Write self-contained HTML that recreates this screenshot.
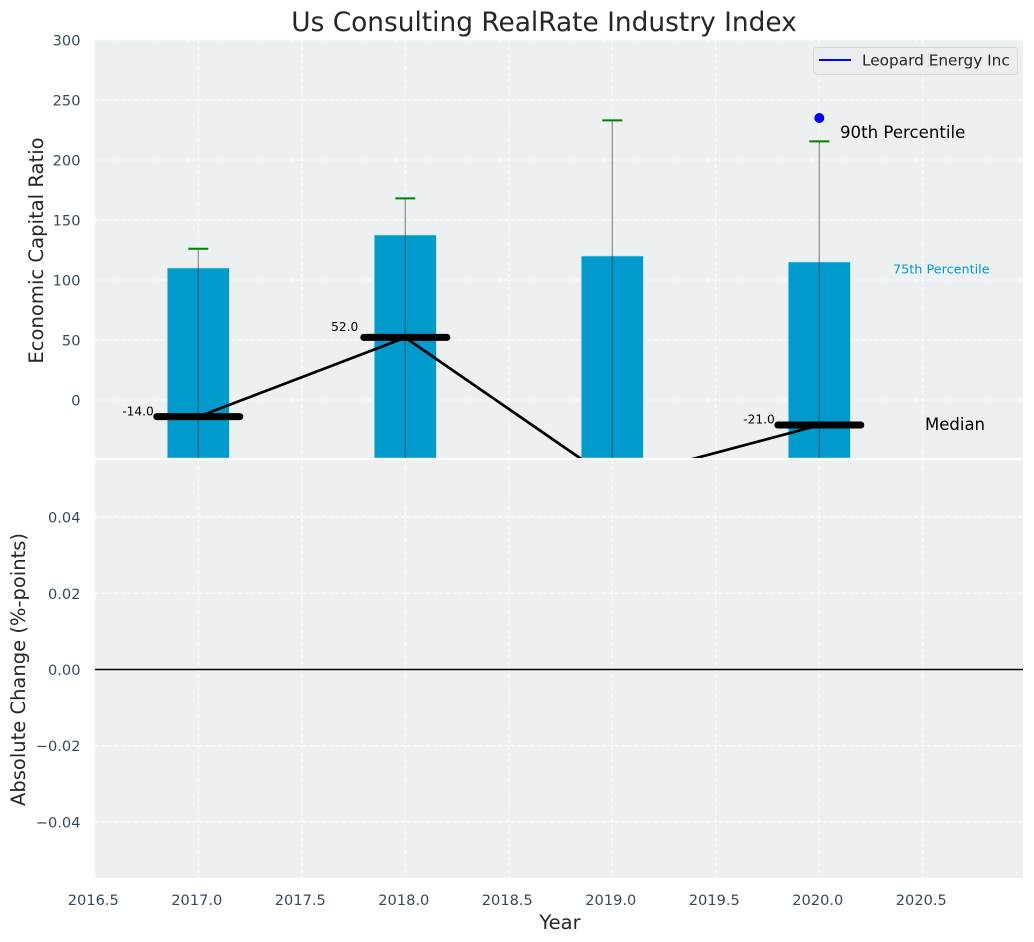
<!DOCTYPE html>
<html>
<head>
<meta charset="utf-8">
<style>
html,body{margin:0;padding:0;background:#fff;}
svg{display:block;font-family:"DejaVu Sans","Liberation Sans",sans-serif;}
</style>
</head>
<body>
<svg id="chart" xmlns="http://www.w3.org/2000/svg" width="1034" height="942" viewBox="0 0 1034 942">
<defs>
<clipPath id="clip-top"><rect x="95" y="40" width="928" height="418"/></clipPath>
<clipPath id="clip-bottom"><rect x="95" y="459" width="928" height="419"/></clipPath>
</defs>
<rect x="95" y="40" width="928" height="418" fill="#ecf0f1"/>
<rect x="95" y="460" width="928" height="418" fill="#ecf0f1"/>
<g id="grid"></g>
<g id="marks-top" clip-path="url(#clip-top)"></g>
<g id="marks-bottom" clip-path="url(#clip-bottom)"></g>
<g id="labels"></g>
<text x="544" y="31" text-anchor="middle" font-size="26.4" fill="#262626">Us Consulting RealRate Industry Index</text>
<text transform="translate(43,250.5) rotate(-90)" text-anchor="middle" font-size="19.6" fill="#262626">Economic Capital Ratio</text>
<text transform="translate(25,669.5) rotate(-90)" text-anchor="middle" font-size="19.5" fill="#262626">Absolute Change (%-points)</text>
<text x="560" y="929" text-anchor="middle" font-size="19.5" fill="#262626">Year</text>
<g>
<rect x="813.5" y="47.5" width="204" height="27" rx="3" fill="#ecedf1" stroke="#d6d8da"/>
<line x1="819" x2="851" y1="60" y2="60" stroke="#0000ff" stroke-width="2"/>
<text x="862" y="65.5" font-size="15.3" fill="#262626">Leopard Energy Inc</text>
</g>
<script>
const years = [2017, 2018, 2019, 2020];
const p75 = [110, 137.5, 120, 115];
const p90 = [126, 168, 233, 215.5];
const medians = [-14, 52, -67, -21];
const companyYears = [2020];
const companyValues = [235];
const xTicks = [2016.5, 2017, 2017.5, 2018, 2018.5, 2019, 2019.5, 2020, 2020.5];
const xTickLabels = ['2016.5', '2017.0', '2017.5', '2018.0', '2018.5', '2019.0', '2019.5', '2020.0', '2020.5'];
const yTicksTop = [0, 50, 100, 150, 200, 250, 300];
const yTicksBottom = [-0.04, -0.02, 0, 0.02, 0.04];
const yTickLabelsBottom = ['\u22120.04', '\u22120.02', '0.00', '0.02', '0.04'];
const medianLabelYears = [2017, 2018, 2020];
const medianLabels = ['-14.0', '52.0', '-21.0'];
const medianLabelValues = [-14, 52, -21];

const NS = 'http://www.w3.org/2000/svg';
const X = v => 198.3 + (v - 2017) * 207;
const YT = v => 400 - v * 1.2;
const YB = v => 669.5 - v * 3812;
const PANEL_LEFT = 95, PANEL_RIGHT = 1023;

function make(parent, tag, attrs, text) {
  const el = document.createElementNS(NS, tag);
  for (const k in attrs) el.setAttribute(k, attrs[k]);
  if (text !== undefined) el.textContent = text;
  parent.appendChild(el);
  return el;
}

const grid = document.getElementById('grid');
const top_ = document.getElementById('marks-top');
const bottom = document.getElementById('marks-bottom');
const labels = document.getElementById('labels');
const gridStyle = {stroke: '#ffffff', 'stroke-width': 1, 'stroke-dasharray': '4 2.5', 'stroke-opacity': 0.85};

xTicks.forEach((t, i) => {
  const a = make(grid, 'line', {...gridStyle, x1: X(t), x2: X(t), y1: 40, y2: 458});
  
  
  const b = make(grid, 'line', {...gridStyle, x1: X(t), x2: X(t), y1: 460, y2: 878});
  
  
  const l = make(labels, 'text', {x: X(t) - 1.5, y: 905, 'text-anchor': 'middle', 'font-size': 14.6, fill: '#34495e'}, xTickLabels[i]);
  
  
});

yTicksTop.forEach(t => {
  const g = make(grid, 'line', {...gridStyle, x1: PANEL_LEFT, x2: PANEL_RIGHT, y1: YT(t), y2: YT(t)});
  
  
  const l = make(labels, 'text', {x: 80.5, y: YT(t) + 5.5, 'text-anchor': 'end', 'font-size': 14.6, fill: '#34495e'}, String(t));
  
  
});

yTicksBottom.forEach((t, i) => {
  const g = make(grid, 'line', {...gridStyle, x1: PANEL_LEFT, x2: PANEL_RIGHT, y1: YB(t), y2: YB(t)});
  
  
  const l = make(labels, 'text', {x: 80.5, y: YB(t) + 5.5, 'text-anchor': 'end', 'font-size': 14.6, fill: '#34495e'}, yTickLabelsBottom[i]);
  
  
});

years.forEach((yr, i) => {
  const bar = make(top_, 'rect', {x: X(yr - 0.15), y: YT(p75[i]), width: X(yr + 0.15) - X(yr - 0.15), height: 458 - YT(p75[i]), fill: '#009acd', stroke: '#c5e3ee', 'stroke-width': 0.6});
  
  
});

years.forEach((yr, i) => {
  const w = make(top_, 'line', {x1: X(yr), x2: X(yr), y1: YT(p90[i]), y2: 458, stroke: '#333333', 'stroke-opacity': 0.55, 'stroke-width': 1.2});
  
  
  const c = make(top_, 'line', {x1: X(yr) - 10, x2: X(yr) + 10, y1: YT(p90[i]), y2: YT(p90[i]), stroke: '#008000', 'stroke-width': 2});
  
  
});

const medianPath = make(top_, 'polyline', {points: years.map((yr, i) => X(yr) + ',' + YT(medians[i])).join(' '), fill: 'none', stroke: '#000000', 'stroke-width': 2.7});



years.forEach((yr, i) => {
  const m = make(top_, 'line', {x1: X(yr) - 41.5, x2: X(yr) + 41.5, y1: YT(medians[i]) - 0.2, y2: YT(medians[i]) - 0.2, stroke: '#000000', 'stroke-width': 7, 'stroke-linecap': 'round'});
  
  
});

companyYears.forEach((yr, i) => {
  const d = make(top_, 'circle', {cx: X(yr), cy: YT(companyValues[i]), r: 5, fill: '#0000ff'});
  
  
});

medianLabelYears.forEach((yr, i) => {
  const v = medianLabelValues[i];
  const l = make(top_, 'text', {x: X(yr) - (v > 0 ? 47 : 44.5), y: YT(v) - (v > 0 ? 6.5 : 1.5), 'text-anchor': 'end', 'font-size': 12.2, fill: '#000000'}, medianLabels[i]);
  
  
});

const t90 = make(top_, 'text', {x: 840, y: 138, 'font-size': 16.6, fill: '#000000'}, '90th Percentile');


const t75 = make(top_, 'text', {x: 893, y: 273.5, 'font-size': 12.8, fill: '#009acd'}, '75th Percentile');


const tMed = make(top_, 'text', {x: 925, y: 430, 'font-size': 16.5, fill: '#000000'}, 'Median');



const zero = make(bottom, 'line', {x1: PANEL_LEFT, x2: PANEL_RIGHT, y1: YB(0), y2: YB(0), stroke: '#000000', 'stroke-width': 1.4});


</script>
</svg>
</body>
</html>
